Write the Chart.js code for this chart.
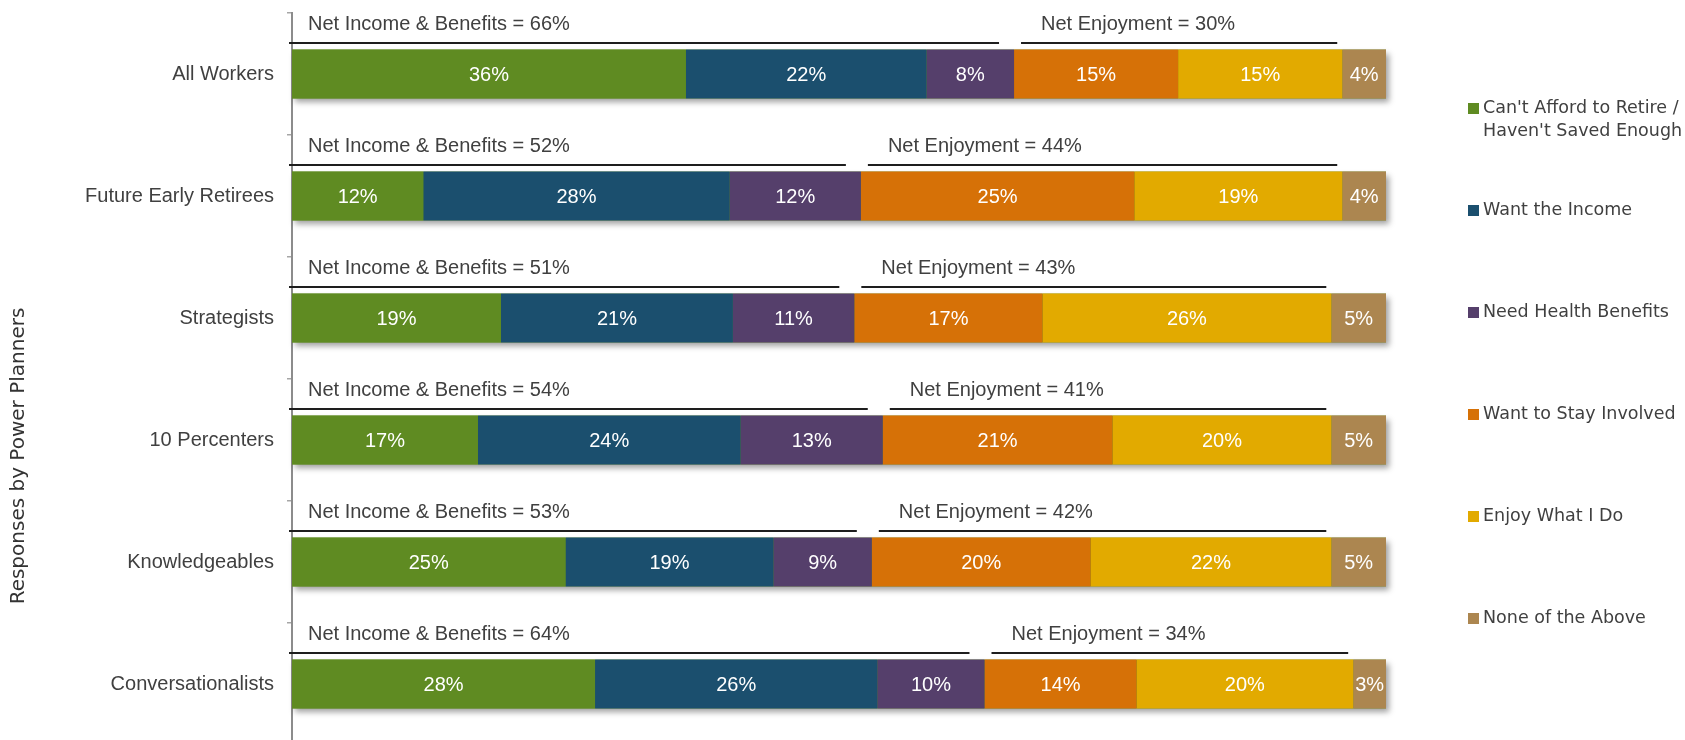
<!DOCTYPE html>
<html>
<head>
<meta charset="utf-8">
<script src="https://cdn.jsdelivr.net/npm/chart.js@4.4.1/dist/chart.umd.min.js"></script>
<style>
  html, body { margin: 0; padding: 0; background: #ffffff; overflow: hidden; width: 1685px; height: 740px; }
  #clip { width: 1685px; height: 740px; overflow: hidden; position: relative; }
  #wrap { width: 1685px; height: 745px; position: absolute; left: 0; top: 0; }
</style>
</head>
<body>
<div id="clip"><div id="wrap"><canvas id="c"></canvas></div></div>
<script>
// ---- Data ----
const categories = ["All Workers", "Future Early Retirees", "Strategists", "10 Percenters", "Knowledgeables", "Conversationalists"];

const cantAfford   = [36, 12, 19.1, 17, 25, 27.7];
const wantIncome   = [22, 28, 21.2, 24, 19, 25.8];
const needHealth   = [8, 12, 11.1, 13, 9, 9.8];
const stayInvolved = [15, 25, 17.2, 21, 20, 13.9];
const enjoyWhatIDo = [15, 19, 26.4, 20, 22, 19.8];
const noneAbove    = [4, 4, 5.0, 5, 5, 3.0];

const netIncomeBenefits = [66, 52, 51, 54, 53, 64];
const netEnjoyment      = [30, 44, 43, 41, 42, 34];

const seriesNames = [
  ["Can't Afford to Retire /", "Haven't Saved Enough"],
  ["Want the Income"],
  ["Need Health Benefits"],
  ["Want to Stay Involved"],
  ["Enjoy What I Do"],
  ["None of the Above"]
];
const seriesColors = ["#5f8b22", "#1b4f6e", "#553f6b", "#d67107", "#e2aa00", "#ac8650"];
const axisTitle = "Responses by Power Planners";

const seriesValues = [cantAfford, wantIncome, needHealth, stayInvolved, enjoyWhatIDo, noneAbove];

const TXT = "#404040";
const TICK_FONT = "'Liberation Sans', Arial, sans-serif";
const LEG_FONT = "'DejaVu Sans', Verdana, sans-serif";

// shadow behind each stacked bar
const shadowPlugin = {
  id: 'barShadow',
  beforeDatasetsDraw(chart) {
    const ctx = chart.ctx;
    const xs = chart.scales.x;
    const first = chart.getDatasetMeta(0).data;
    ctx.save();
    first.forEach((el, i) => {
      let total = 0;
      seriesValues.forEach(s => total += s[i]);
      const left = xs.getPixelForValue(0);
      const right = xs.getPixelForValue(Math.min(total, 100));
      const top = el.y - el.height / 2;
      ctx.shadowColor = 'rgba(0,0,0,0.38)';
      ctx.shadowBlur = 6;
      ctx.shadowOffsetX = 3;
      ctx.shadowOffsetY = 4;
      ctx.fillStyle = seriesColors[0];
      ctx.fillRect(left, top, right - left, el.height);
    });
    ctx.restore();
  }
};

// value labels + net annotations
const annotatePlugin = {
  id: 'annotate',
  afterDatasetsDraw(chart) {
    const ctx = chart.ctx;
    const xs = chart.scales.x;
    ctx.save();
    ctx.font = "20px " + TICK_FONT;
    ctx.fillStyle = "#ffffff";
    ctx.textAlign = "center";
    ctx.textBaseline = "middle";
    chart.data.datasets.forEach((ds, di) => {
      chart.getDatasetMeta(di).data.forEach((el, i) => {
        const cx = (el.x + el.base) / 2;
        ctx.fillText(Math.round(ds.data[i]) + "%", cx, el.y + 1);
      });
    });
    const first = chart.getDatasetMeta(0).data;
    ctx.strokeStyle = "#1e1e1e";
    ctx.lineWidth = 2;
    ctx.fillStyle = TXT;
    ctx.textAlign = "left";
    ctx.textBaseline = "alphabetic";
    first.forEach((el, i) => {
      const incSum = cantAfford[i] + wantIncome[i] + needHealth[i];
      const enjSum = stayInvolved[i] + enjoyWhatIDo[i];
      const top = el.y - el.height / 2;
      const ly = Math.round(top - 6.5);
      const x0 = xs.getPixelForValue(0) - 3;
      const x1 = xs.getPixelForValue(incSum) - 15;
      const x2 = xs.getPixelForValue(incSum) + 7;
      const x3 = xs.getPixelForValue(incSum + enjSum) - 5;
      ctx.beginPath();
      ctx.moveTo(x0, ly); ctx.lineTo(x1, ly);
      ctx.moveTo(x2, ly); ctx.lineTo(x3, ly);
      ctx.stroke();
      ctx.fillText("Net Income & Benefits = " + netIncomeBenefits[i] + "%", x0 + 19, ly - 13.5);
      ctx.fillText("Net Enjoyment = " + netEnjoyment[i] + "%", x2 + 20, ly - 13.5);
    });
    ctx.restore();
  }
};

// legend + axis title
const legendPlugin = {
  id: 'customLegend',
  afterDraw(chart) {
    const ctx = chart.ctx;
    ctx.save();
    ctx.font = "17.5px " + LEG_FONT;
    ctx.textAlign = "left";
    ctx.textBaseline = "middle";
    const startY = 108.5, step = 102, lineH = 22.5;
    seriesNames.forEach((lines, i) => {
      const y = startY + i * step;
      ctx.fillStyle = seriesColors[i];
      ctx.fillRect(1468, y - 5.5, 11, 11);
      ctx.fillStyle = TXT;
      lines.forEach((t, k) => ctx.fillText(t, 1483, y + k * lineH));
    });
    ctx.translate(19, 456);
    ctx.rotate(-Math.PI / 2);
    ctx.textAlign = "center";
    ctx.font = "20px " + LEG_FONT;
    ctx.fillStyle = "#333333";
    ctx.fillText(axisTitle, 0, 0);
    ctx.restore();
  }
};

const datasets = seriesValues.map((vals, i) => ({
  label: seriesNames[i].join(' '),
  data: vals,
  backgroundColor: seriesColors[i],
  borderWidth: 0,
  barPercentage: 0.4,
  categoryPercentage: 1.0
}));

new Chart(document.getElementById('c'), {
  type: 'bar',
  data: { labels: categories, datasets },
  plugins: [shadowPlugin, annotatePlugin, legendPlugin],
  options: {
    indexAxis: 'y',
    responsive: true,
    maintainAspectRatio: false,
    animation: false,
    devicePixelRatio: 1,
    layout: { padding: { left: 0, right: 299, top: 13, bottom: 0 } },
    plugins: { legend: { display: false }, tooltip: { enabled: false } },
    scales: {
      x: { type: 'linear', stacked: true, min: 0, max: 100, display: false },
      y: {
        stacked: true,
        afterFit(scale) {
          scale.width = 292;
          scale.paddingTop = 0;
          scale.paddingBottom = 0;
        },
        grid: { display: true, drawOnChartArea: false, drawTicks: true, tickLength: 5, color: '#a6a6a6', lineWidth: 1.5, offset: true },
        border: { display: true, color: '#8c8c8c', width: 2 },
        ticks: { color: TXT, font: { family: TICK_FONT, size: 20 }, padding: 13 }
      }
    }
  }
});
</script>
</body>
</html>
